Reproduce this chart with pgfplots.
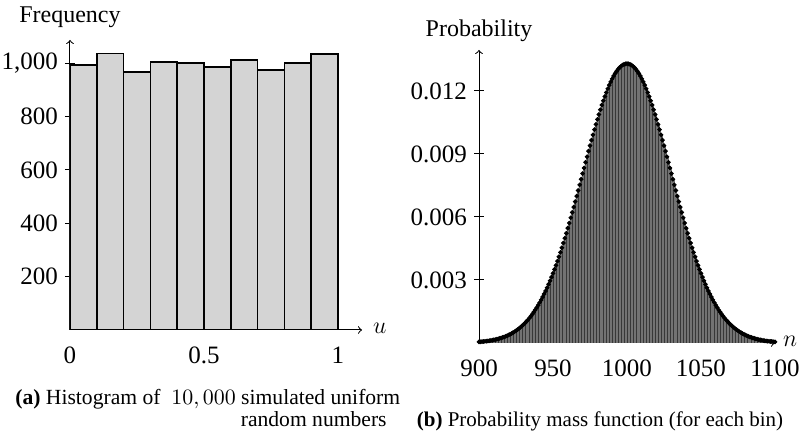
\documentclass[border=0pt]{standalone}
\usepackage{pgfplots}
\pgfplotsset{compat=1.18}
\usepackage{pgfplotstable}
\usepackage{fontspec}
\setmainfont{Liberation Serif}

\pgfplotstableread{
n p
900 0.000051
901 0.000057
902 0.000064
903 0.000071
904 0.000079
905 0.000088
906 0.000098
907 0.000109
908 0.000121
909 0.000134
910 0.000148
911 0.000163
912 0.000180
913 0.000198
914 0.000218
915 0.000240
916 0.000264
917 0.000290
918 0.000317
919 0.000347
920 0.000380
921 0.000415
922 0.000453
923 0.000493
924 0.000537
925 0.000584
926 0.000635
927 0.000689
928 0.000746
929 0.000808
930 0.000874
931 0.000944
932 0.001019
933 0.001098
934 0.001182
935 0.001272
936 0.001366
937 0.001466
938 0.001572
939 0.001683
940 0.001800
941 0.001923
942 0.002052
943 0.002187
944 0.002329
945 0.002477
946 0.002632
947 0.002793
948 0.002961
949 0.003135
950 0.003316
951 0.003503
952 0.003697
953 0.003898
954 0.004104
955 0.004317
956 0.004536
957 0.004761
958 0.004991
959 0.005226
960 0.005467
961 0.005712
962 0.005962
963 0.006216
964 0.006473
965 0.006733
966 0.006996
967 0.007262
968 0.007529
969 0.007797
970 0.008066
971 0.008334
972 0.008603
973 0.008870
974 0.009135
975 0.009397
976 0.009656
977 0.009912
978 0.010163
979 0.010409
980 0.010648
981 0.010881
982 0.011107
983 0.011326
984 0.011535
985 0.011736
986 0.011926
987 0.012106
988 0.012276
989 0.012434
990 0.012579
991 0.012713
992 0.012834
993 0.012941
994 0.013035
995 0.013115
996 0.013180
997 0.013232
998 0.013269
999 0.013291
1000 0.013298
1001 0.013291
1002 0.013269
1003 0.013232
1004 0.013180
1005 0.013115
1006 0.013035
1007 0.012941
1008 0.012834
1009 0.012713
1010 0.012579
1011 0.012434
1012 0.012276
1013 0.012106
1014 0.011926
1015 0.011736
1016 0.011535
1017 0.011326
1018 0.011107
1019 0.010881
1020 0.010648
1021 0.010409
1022 0.010163
1023 0.009912
1024 0.009656
1025 0.009397
1026 0.009135
1027 0.008870
1028 0.008603
1029 0.008334
1030 0.008066
1031 0.007797
1032 0.007529
1033 0.007262
1034 0.006996
1035 0.006733
1036 0.006473
1037 0.006216
1038 0.005962
1039 0.005712
1040 0.005467
1041 0.005226
1042 0.004991
1043 0.004761
1044 0.004536
1045 0.004317
1046 0.004104
1047 0.003898
1048 0.003697
1049 0.003503
1050 0.003316
1051 0.003135
1052 0.002961
1053 0.002793
1054 0.002632
1055 0.002477
1056 0.002329
1057 0.002187
1058 0.002052
1059 0.001923
1060 0.001800
1061 0.001683
1062 0.001572
1063 0.001466
1064 0.001366
1065 0.001272
1066 0.001182
1067 0.001098
1068 0.001019
1069 0.000944
1070 0.000874
1071 0.000808
1072 0.000746
1073 0.000689
1074 0.000635
1075 0.000584
1076 0.000537
1077 0.000493
1078 0.000453
1079 0.000415
1080 0.000380
1081 0.000347
1082 0.000317
1083 0.000290
1084 0.000264
1085 0.000240
1086 0.000218
1087 0.000198
1088 0.000180
1089 0.000163
1090 0.000148
1091 0.000134
1092 0.000121
1093 0.000109
1094 0.000098
1095 0.000088
1096 0.000079
1097 0.000071
1098 0.000064
1099 0.000057
1100 0.000051
}\pmf

\pgfplotsset{
  common/.style={
    scale only axis,
    axis lines=left,
    axis line style={->, line width=0.5pt},
    /pgf/number format/assume math mode=true,
    scaled ticks=false,
    ticklabel style={font=\fontsize{12.5}{15}\selectfont},
    xticklabel style={yshift=-2.5pt},
    tick align=center,
    y tick style={black, line width=0.5pt},
    major tick length=5pt,
    x tick style={draw=none},
    label style={font=\fontsize{12}{14}\selectfont},
  }
}

\begin{document}
\begin{tikzpicture}
\useasboundingbox (0,0) rectangle (400pt,216.5pt);

\begin{axis}[common,
  at={(35pt,51.5pt)}, anchor=south west,
  width=146pt, height=145pt,
  xmin=0, xmax=1.09, ymin=0, ymax=1087,
  xtick={0,0.5,1}, xticklabels={0,0.5,1},
  ytick={200,400,600,800,1000},
  yticklabels={200,400,600,800,{1,000}},
  ylabel={Frequency},
  ylabel style={rotate=-90, at={(axis description cs:0,1)}, anchor=base, yshift=8.5pt},
  xlabel={$u$},
  xlabel style={at={(axis description cs:1,0)}, anchor=west, xshift=2pt, yshift=1pt},
]
\addplot[ybar interval, fill=black!17, draw=black, line width=0.8pt]
coordinates {(0,994) (0.1,1037) (0.2,966) (0.3,1005) (0.4,1000) (0.5,986) (0.6,1011) (0.7,974) (0.8,1000) (0.9,1034) (1.0,1034)};
\end{axis}

\begin{axis}[common,
  at={(239.5pt,45pt)}, anchor=south west,
  width=148pt, height=146.5pt,
  xmin=900, xmax=1100, ymin=0, ymax=0.01395,
  xtick={900,950,1000,1050,1100},
  xticklabels={900,950,1000,1050,1100},
  ytick={0.003,0.006,0.009,0.012},
  yticklabels={0.003,0.006,0.009,0.012},
  ylabel={Probability},
  ylabel style={rotate=-90, at={(axis description cs:0,1)}, anchor=base, yshift=6.5pt},
  xlabel={$n$},
  xlabel style={at={(axis description cs:1,0)}, anchor=west, xshift=0.5pt, yshift=1pt},
]
\addplot[ybar, bar width=1, bar shift=0pt, fill=black!78, draw=black!55, line width=0.1pt] table[x=n, y=p] {\pmf};
\addplot[only marks, mark=*, mark size=0.95pt, black] table[x=n, y=p] {\pmf};
\end{axis}

\node[anchor=base west, font=\fontsize{10.8}{13}\selectfont, inner sep=0pt] at (7.5pt,14pt)
  {\textbf{(a)} Histogram of \ $10,000$ simulated uniform};
\node[anchor=base east, font=\fontsize{10.8}{13}\selectfont, inner sep=0pt] at (193.5pt,3pt)
  {random numbers};
\node[anchor=base, font=\fontsize{10.5}{13}\selectfont, inner sep=0pt] at (300pt,3pt)
  {\textbf{(b)} Probability mass function (for each bin)};
\end{tikzpicture}
\end{document}
